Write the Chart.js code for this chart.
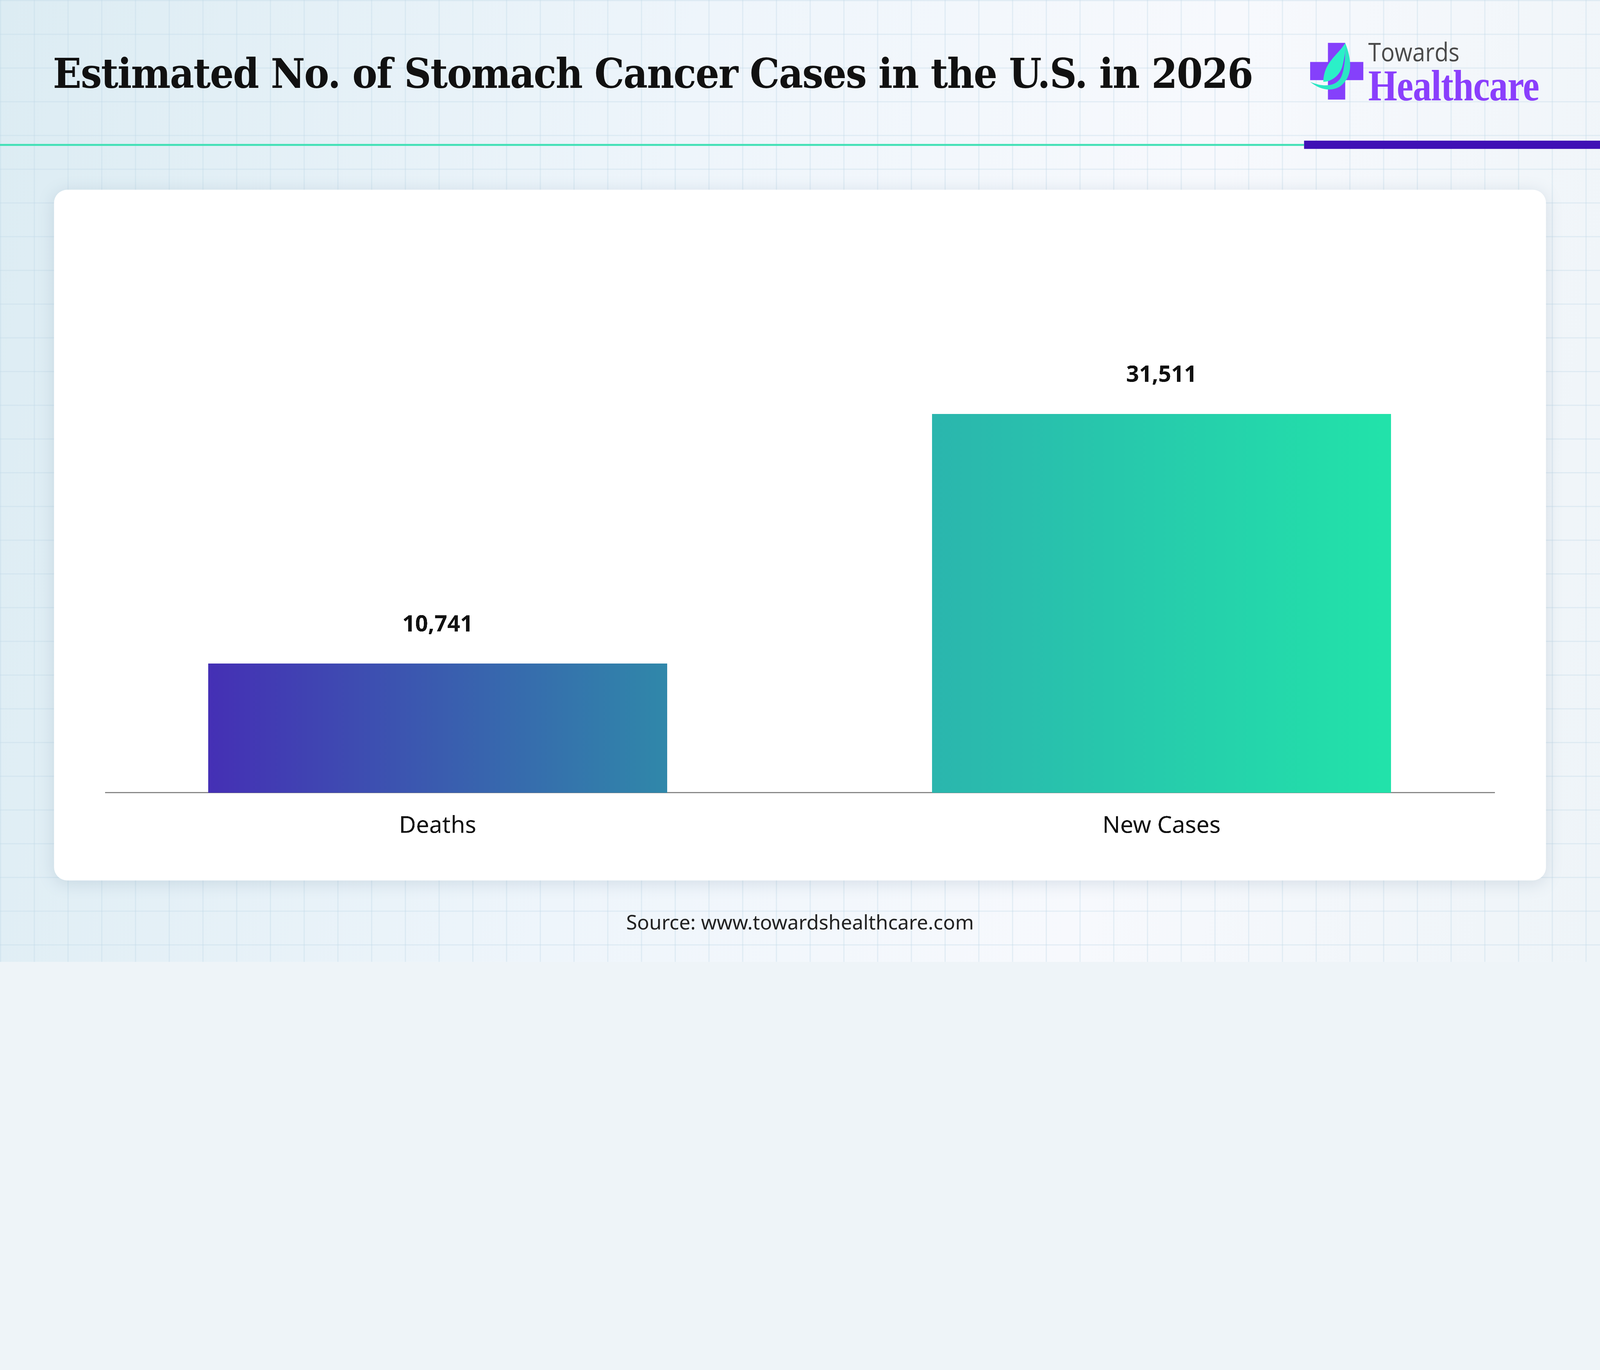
<!DOCTYPE html>
<html><head><meta charset="utf-8">
<script src="https://cdn.jsdelivr.net/npm/chart.js@4.4.0/dist/chart.umd.min.js"></script>
<style>
html,body{margin:0;padding:0;overflow:hidden;width:100%;height:100%;background:#eef4f8}
#page{position:absolute;left:0;top:0;width:5834px;height:3508px;transform-origin:0 0;background:
 linear-gradient(rgba(190,215,230,.35) 4px,transparent 4px) 0 0/123px 123px,
 linear-gradient(90deg,rgba(190,215,230,.35) 4px,transparent 4px) 0 0/123px 123px,
 linear-gradient(100deg,#dcecf3 0%,#eef5fb 40%,#f7f9fd 70%,#eef4f8 100%);font-family:"Noto Sans",sans-serif}
#title{position:absolute;left:193px;top:180px;font:bold 150px "DejaVu Serif",serif;color:#111;letter-spacing:-3px;white-space:nowrap;transform:scaleX(.91);transform-origin:left top}
#tl{position:absolute;left:0;top:525px;width:4755px;height:7px;background:#3fe0b5}
#pl{position:absolute;left:4755px;top:513px;width:1079px;height:30px;background:#3f10b5}
#card{position:absolute;left:197px;top:692px;width:5440px;height:2519px;background:#fff;border-radius:48px;box-shadow:0 10px 60px rgba(80,110,140,.18)}
#wrap{position:absolute;left:197px;top:692px;width:5440px;height:2519px}
#src{position:absolute;left:0;width:5834px;top:3312px;text-align:center;font-size:73px;color:#222}
#tow{position:absolute;left:4989px;top:130px;font:95px "Open Sans",sans-serif;color:#4a4a4a;line-height:1.2;transform:scaleX(.88);transform-origin:left top}
#hc{position:absolute;left:4989px;top:232px;font:bold 160px "Liberation Serif",serif;color:#8a3ffc;transform:scaleX(.85);transform-origin:left top;line-height:1;letter-spacing:-2px}
</style></head><body>
<div id="page">
<div id="title">Estimated No. of Stomach Cancer Cases in the U.S. in 2026</div>
<div id="tl"></div><div id="pl"></div>
<svg style="position:absolute;left:4777px;top:156px" width="200" height="210" viewBox="0 0 200 450" preserveAspectRatio="none">
<rect x="65" y="0" width="63" height="444" fill="#8540fb"/>
<rect x="0" y="150" width="194" height="142" fill="#8540fb"/>
<path d="M128 2 C150 120 160 260 110 340 C80 380 40 375 0 305 C50 350 90 340 110 280 C125 230 130 100 128 2Z" fill="#2be6c4"/>
<path d="M128 2 C100 100 50 150 48 305 C80 305 110 250 118 180 C125 120 130 60 128 2Z" fill="#2bf0c8"/>
</svg>
<div id="tow">Towards</div>
<div id="hc">Healthcare</div>
<div id="card"></div>
<div id="wrap"><canvas id="c"></canvas></div>
<div id="src">Source: www.towardshealthcare.com</div>
</div>
<script>
const categories = ['Deaths','New Cases'];
const values = [10741, 31511];
const yMax = 40000;

const page = document.getElementById('page');
page.style.transform = 'scale(' + (window.innerWidth/5834) + ')';

// value labels + baseline drawn narrower than the category band
const extras = {
  id:'extras',
  beforeDatasetsDraw(chart){
    const {ctx, chartArea:a} = chart;
    ctx.save();
    ctx.strokeStyle = '#888'; ctx.lineWidth = 4;
    ctx.beginPath(); ctx.moveTo(a.left+107, a.bottom); ctx.lineTo(a.right-104, a.bottom); ctx.stroke();
    ctx.restore();
  },
  afterDatasetsDraw(chart){
    const ctx = chart.ctx;
    ctx.save();
    ctx.font = 'bold 82px "Noto Sans"';
    ctx.fillStyle = '#111';
    ctx.textAlign = 'center';
    ctx.textBaseline = 'bottom';
    chart.getDatasetMeta(0).data.forEach((b,i)=>{
      ctx.fillText(values[i].toLocaleString('en-US'), b.x, b.y-100);
    });
    ctx.restore();
  }
};

new Chart(document.getElementById('c'), {
  type:'bar',
  data:{labels:categories, datasets:[{data:values, borderWidth:0,
    backgroundColor:c=>{
      const a = c.chart.chartArea; if(!a) return '#3088aa';
      const w = a.right-a.left;
      const g = c.chart.ctx.createLinearGradient(a.left+w*0.092, 0, a.right-w*0.092, 0);
      g.addColorStop(0,'#4530b5'); g.addColorStop(0.388,'#3088aa');
      g.addColorStop(0.612,'#2bb6ae'); g.addColorStop(1,'#22e3aa');
      return g;
    },
    categoryPercentage:0.634, barPercentage:1}]},
  options:{responsive:true, maintainAspectRatio:false, animation:false, devicePixelRatio:3,
    layout:{padding:{left:79,right:82,top:446,bottom:76}},
    plugins:{legend:{display:false},tooltip:{enabled:false}},
    scales:{
      x:{grid:{display:false,drawTicks:false}, border:{display:false},
        ticks:{color:'#111',font:{size:85,family:'"Noto Sans"'},padding:71}},
      y:{display:false,min:0,max:yMax}
    }},
  plugins:[extras]
});
</script>
</body></html>
